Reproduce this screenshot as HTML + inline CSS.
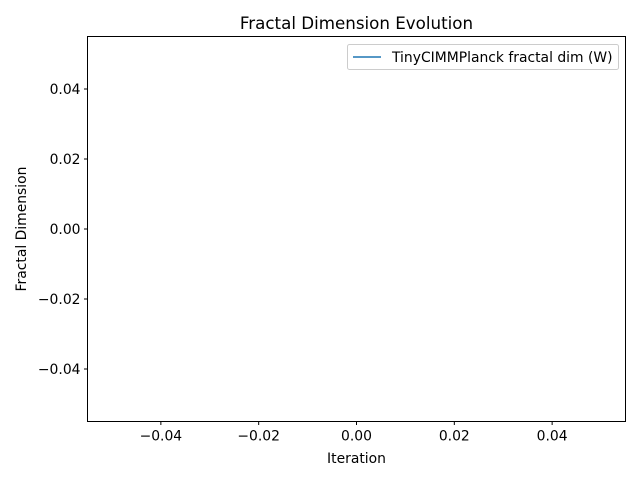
<!DOCTYPE html>
<html><head><meta charset="utf-8"><style>body{margin:0;background:#fff}svg{display:block;font-family:"DejaVu Sans","Liberation Sans",sans-serif}</style></head>
<body>
<svg id="chart" width="640" height="480" viewBox="0 0 640 480">
<rect x="0" y="0" width="640" height="480" fill="#fff"/>
<text x="356.5" y="29" font-size="16.7" text-anchor="middle" fill="#000">Fractal Dimension Evolution</text>
<g id="xticks"></g>
<g id="yticks"></g>
<rect x="87.5" y="36.5" width="538" height="385" fill="none" stroke="#000" stroke-width="1"/>
<text x="356.5" y="463" font-size="13.9" text-anchor="middle">Iteration</text>
<text x="26" y="229" font-size="13.9" text-anchor="middle" transform="rotate(-90 26 229)">Fractal Dimension</text>
<g>
<rect x="347.5" y="44.5" width="271" height="25" rx="2" fill="#fff" fill-opacity="0.8" stroke="#ccc"/>
<line x1="353" y1="57" x2="381" y2="57" stroke="#1f77b4" stroke-width="1.5"/>
<text x="392" y="62" font-size="13.9">TinyCIMMPlanck fractal dim (W)</text>
</g>
</svg>
<script>
const xTicks=[-0.04,-0.02,0.00,0.02,0.04];
const yTicks=[-0.04,-0.02,0.00,0.02,0.04];
const xDomain=[-0.055,0.055], yDomain=[-0.055,0.055];
const L=87.5,R=625.5,T=36.5,B=421.5;
const sx=v=>L+(v-xDomain[0])/(xDomain[1]-xDomain[0])*(R-L);
const sy=v=>B-(v-yDomain[0])/(yDomain[1]-yDomain[0])*(B-T);
const NS='http://www.w3.org/2000/svg';
const fmt=v=>(v<0?'\u2212':'')+Math.abs(v).toFixed(2);
const xg=document.getElementById('xticks'), yg=document.getElementById('yticks');
xTicks.forEach(v=>{
 const l=document.createElementNS(NS,'line');
 
 
 l.setAttribute('x1',sx(v));l.setAttribute('x2',sx(v));l.setAttribute('y1',B);l.setAttribute('y2',B+3.5);l.setAttribute('stroke','#000');
 xg.appendChild(l);
 const t=document.createElementNS(NS,'text');
 
 
 t.setAttribute('x',sx(v));t.setAttribute('y',B+19);t.setAttribute('font-size','13.9');t.setAttribute('text-anchor','middle');
 t.textContent=fmt(v);xg.appendChild(t);
});
yTicks.forEach(v=>{
 const l=document.createElementNS(NS,'line');
 
 
 l.setAttribute('x1',L-3.5);l.setAttribute('x2',L);l.setAttribute('y1',sy(v));l.setAttribute('y2',sy(v));l.setAttribute('stroke','#000');
 yg.appendChild(l);
 const t=document.createElementNS(NS,'text');
 
 
 t.setAttribute('x',L-7);t.setAttribute('y',sy(v)+5);t.setAttribute('font-size','13.9');t.setAttribute('text-anchor','end');
 t.textContent=fmt(v);yg.appendChild(t);
});
</script>
</body></html>
